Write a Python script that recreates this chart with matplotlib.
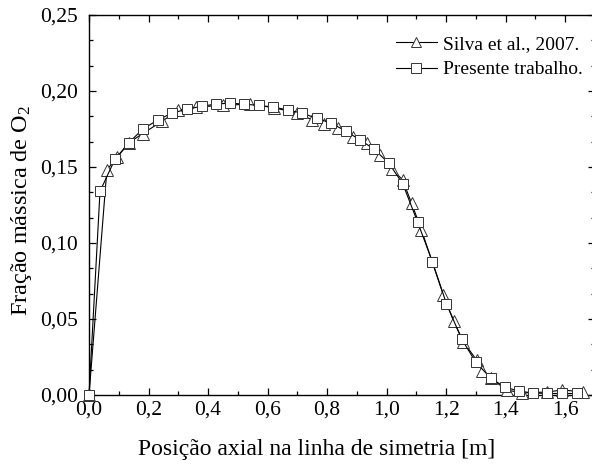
import matplotlib
matplotlib.use("Agg")
import matplotlib.pyplot as plt
from matplotlib.ticker import MultipleLocator, FuncFormatter

plt.rcParams['font.family'] = ['Liberation Serif', 'DejaVu Serif']
plt.rcParams['mathtext.fontset'] = 'custom'
plt.rcParams['mathtext.rm'] = 'Liberation Serif'
plt.rcParams['mathtext.it'] = 'Liberation Serif:italic'

# Silva et al., 2007 (triangles)
silva_x = [0.0, 0.06, 0.095, 0.135, 0.18, 0.245, 0.30, 0.36, 0.45, 0.54, 0.62, 0.70,
           0.75, 0.79, 0.836, 0.886, 0.933, 0.977, 1.017, 1.054, 1.084, 1.117, 1.191,
           1.225, 1.258, 1.302, 1.322, 1.35, 1.403, 1.456, 1.54, 1.59, 1.66]
silva_y = [0.0, 0.148, 0.1566, 0.166, 0.172, 0.180, 0.1875, 0.1895, 0.1905, 0.1914, 0.189, 0.1855,
           0.181, 0.178, 0.1757, 0.170, 0.166, 0.158, 0.149, 0.1414, 0.126, 0.1086, 0.0655,
           0.0487, 0.035, 0.023, 0.0158, 0.011, 0.0033, 0.0013, 0.002, 0.0033, 0.002]

# Presente trabalho (squares)
pres_x = [0.0, 0.037, 0.087, 0.134, 0.181, 0.232, 0.279, 0.329, 0.379, 0.426, 0.473, 0.52,
          0.570, 0.617, 0.668, 0.715, 0.765, 0.812, 0.862, 0.909, 0.956, 1.007, 1.054, 1.104,
          1.154, 1.201, 1.252, 1.299, 1.349, 1.396, 1.443, 1.493, 1.540, 1.590, 1.640]
pres_y = [0.0, 0.134, 0.155, 0.166, 0.175, 0.181, 0.1855, 0.188, 0.190, 0.1914, 0.192, 0.1914,
          0.1905, 0.1895, 0.1875, 0.1855, 0.182, 0.179, 0.1737, 0.168, 0.162, 0.1526, 0.139, 0.1138,
          0.0875, 0.060, 0.0368, 0.0217, 0.0112, 0.0053, 0.0026, 0.0013, 0.001, 0.001, 0.001]

fig = plt.figure(figsize=(5.92, 4.65), dpi=100)
ax = fig.add_axes([89/592, 70/465, (595-89)/592, (395-15)/465])

ax.plot(silva_x, silva_y, color='black', lw=0.8, marker='^', ms=8, mfc='white',
        mec='#333333', mew=0.7, label='Silva et al., 2007.', clip_on=False, zorder=3)
ax.plot(pres_x, pres_y, color='black', lw=0.8, marker='s', ms=7.5, mfc='white',
        mec='#333333', mew=0.7, label='Presente trabalho.', clip_on=False, zorder=4)

ax.set_xlim(0, 1.7)
ax.set_ylim(0, 0.25)
ax.xaxis.set_major_locator(MultipleLocator(0.2))
ax.xaxis.set_minor_locator(MultipleLocator(0.1))
ax.yaxis.set_major_locator(MultipleLocator(0.05))
ax.yaxis.set_minor_locator(MultipleLocator(0.05/3))
ax.xaxis.set_major_formatter(FuncFormatter(lambda v, p: f"{v:.1f}".replace('.', ',')))
ax.yaxis.set_major_formatter(FuncFormatter(lambda v, p: f"{v:.2f}".replace('.', ',')))
ax.tick_params(which='both', direction='in', top=True, right=True, labelsize=15.5, width=0.9)
ax.tick_params(which='major', length=5, pad=4)
ax.tick_params(which='minor', length=3)
ax.tick_params(axis='y', which='major', pad=8)
for s in ax.spines.values():
    s.set_linewidth(1.0)

ax.set_xlabel('Posição axial na linha de simetria [m]', fontsize=17, va='center')
ax.set_ylabel('Fração mássica de O$_2$', fontsize=17.5, va='center')
ax.xaxis.set_label_coords((317-89)/506, -(449-395)/380)
ax.yaxis.set_label_coords(-(89-22)/506, (395-210)/380)

leg = ax.legend(loc='upper right', bbox_to_anchor=(1.003, 0.983), frameon=False,
                fontsize=14, handlelength=2.15, handletextpad=0.3, labelspacing=0.42,
                borderaxespad=0.3)
for h in leg.legend_handles:
    h.set_markersize(6.5)

fig.savefig('out.png', dpi=100)
